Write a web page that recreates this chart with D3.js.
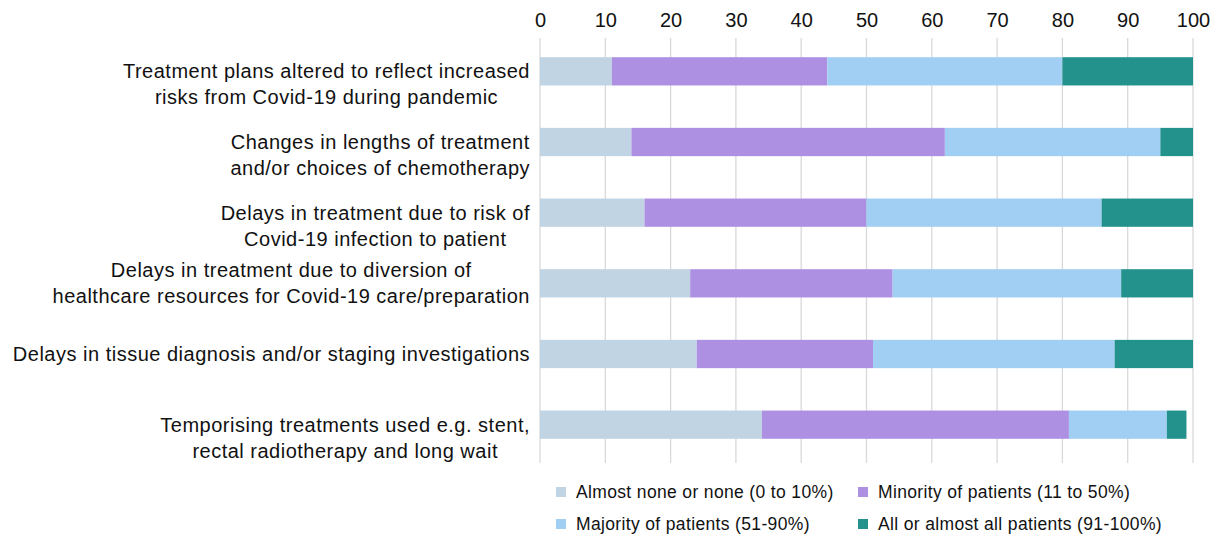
<!DOCTYPE html>
<html>
<head>
<meta charset="utf-8">
<script src="https://cdn.jsdelivr.net/npm/d3@7"></script>
<style>
  body { margin: 0; background: #fff; }
  svg { font-family: "Liberation Sans", Arial, Helvetica, sans-serif; }
  .grid line { stroke: #d9d9d9; stroke-width: 1.3; }
  .axis text { font-size: 20px; fill: #111; }
  .label { font-size: 20px; letter-spacing: 0.5px; fill: #111; }
  .legend text { font-size: 17.5px; letter-spacing: 0.35px; fill: #111; }
</style>
</head>
<body>
<svg width="1218" height="538"></svg>
<script>
const categories = [
	["Treatment plans altered to reflect increased", "risks from Covid-19 during pandemic"],
	["Changes in lengths of treatment", "and/or choices of chemotherapy"],
	["Delays in treatment due to risk of", "Covid-19 infection to patient"],
	["Delays in treatment due to diversion of", "healthcare resources for Covid-19 care/preparation"],
	["Delays in tissue diagnosis and/or staging investigations"],
	["Temporising treatments used e.g. stent,", "rectal radiotherapy and long wait"]
]
const seriesNames = [
	"Almost none or none (0 to 10%)",
	"Minority of patients (11 to 50%)",
	"Majority of patients (51-90%)",
	"All or almost all patients (91-100%)"
]
const almostNone = [11, 14, 16, 23, 24, 34]
const minority = [33, 48, 34, 31, 27, 47]
const majority = [36, 33, 36, 35, 37, 15]
const allPatients = [20, 5, 14, 11, 12, 3]
const tickValues = [0, 10, 20, 30, 40, 50, 60, 70, 80, 90, 100]
const colors = ["#c0d4e4", "#ad90e2", "#a0cff3", "#23928c"]

const svg = d3.select("svg")

const x = d3.scaleLinear()
	.domain([0, 100])
	.range([540, 1193])

const y = d3.scaleBand()
	.domain(d3.range(categories.length))
	.range([36, 460])
	.paddingInner(0.6)
	.paddingOuter(0.3)

// rows of stacked data
const rows = categories.map((c, i) => ({
	i: i,
	v0: almostNone[i], v1: minority[i], v2: majority[i], v3: allPatients[i]
}))
const stack = d3.stack().keys(["v0", "v1", "v2", "v3"])(rows)

// gridlines
svg.append("g")
	.attr("class", "grid")
	.selectAll("line")
	.data(tickValues)
	.enter()
	.append("line")
	.attr("x1", d => x(d))
	.attr("x2", d => x(d))
	.attr("y1", 38)
	.attr("y2", 463)

// axis labels on top
const axis = svg.append("g")
	.attr("class", "axis")
	.attr("transform", "translate(0, 31)")
	.call(d3.axisTop(x).tickValues(tickValues).tickSize(0).tickPadding(4))
axis.select(".domain").remove()
axis.selectAll("text").attr("font-family", null).attr("font-size", null)

// bars
svg.append("g")
	.selectAll("g")
	.data(stack)
	.enter()
	.append("g")
	.attr("fill", (d, i) => colors[i])
	.selectAll("rect")
	.data(d => d)
	.enter()
	.append("rect")
	.attr("x", d => x(d[0]))
	.attr("y", d => y(d.data.i))
	.attr("width", d => x(d[1]) - x(d[0]))
	.attr("height", y.bandwidth())

// category labels, each block centred, widest line ending at 530
const lineH = 26
const labels = svg.append("g")
categories.forEach((lines, i) => {
	const t = labels.append("text")
		.attr("class", "label")
		.attr("text-anchor", "middle")
	const first = y(i) + y.bandwidth() / 2 + 7 - (i === 3 ? lineH / 2 : 0)
	lines.forEach((l, j) => {
		t.append("tspan").text(l).attr("y", first + j * lineH)
	})
	let w = 0
	t.selectAll("tspan").each(function() { w = Math.max(w, this.getComputedTextLength()) })
	t.selectAll("tspan").attr("x", 530 - w / 2)
})

// legend
const legendPos = [[556, 492], [858, 492], [556, 524], [858, 524]]
const legend = svg.append("g")
	.attr("class", "legend")
	.selectAll("g")
	.data(seriesNames)
	.enter()
	.append("g")
	.attr("transform", (d, i) => "translate(" + legendPos[i][0] + "," + legendPos[i][1] + ")")
legend.append("rect")
	.attr("x", 0)
	.attr("y", -5)
	.attr("width", 10)
	.attr("height", 10)
	.attr("fill", (d, i) => colors[i])
legend.append("text")
	.attr("x", 20)
	.attr("y", 6)
	.text(d => d)
</script>
</body>
</html>
